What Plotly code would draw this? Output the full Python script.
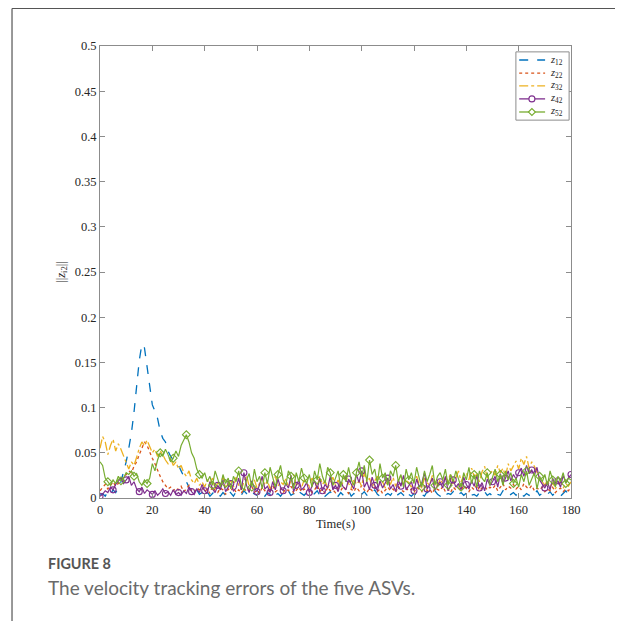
import plotly.graph_objects as go

# time axis (s)
time_s = list(range(0, 181))

# values in thousandths of the error norm
z12_milli = [3,5,2,7,4,9,6,11,18,28,
             40,55,72,95,125,152,170,166,145,122,
             103,96,88,74,66,62,52,46,42,40,
             36,30,24,18,12,8,5,9,4,6,
             3,7,2,5,8,4,2,6,3,9,
             5,2,7,4,3,8,5,2,6,4,
             3,9,5,2,6,4,7,3,5,2,
             6,4,8,3,5,2,7,5,3,6,
             4,2,5,8,3,6,2,4,7,3,
             5,2,6,3,4,8,2,5,3,6,
             4,7,3,2,5,9,4,2,6,3,
             5,3,7,2,4,6,3,8,4,2,
             5,3,6,4,2,7,3,5,8,4,
             2,6,3,5,4,7,2,4,6,3,
             5,8,3,4,2,6,4,7,3,5,
             2,6,4,3,8,5,2,4,6,3,
             7,4,2,5,3,6,4,8,3,5,
             2,4,7,3,6,4,2,5,8,4,
             6]
z22_milli = [8,12,15,10,14,18,13,16,20,22,
             26,30,28,35,40,48,55,62,58,50,
             44,38,30,24,18,14,10,12,8,11,
             9,13,7,10,14,8,6,11,9,12,
             7,10,5,13,8,6,11,9,4,10,
             8,12,6,9,5,11,7,10,13,6,
             9,5,12,8,10,6,14,7,9,11,
             6,10,8,13,5,9,12,7,10,8,
             11,6,9,14,7,10,5,12,8,9,
             6,11,8,13,9,5,10,7,12,8,
             14,9,6,11,8,12,7,10,5,9,
             12,8,10,6,13,9,7,11,8,10,
             6,12,9,7,14,8,10,5,11,9,
             8,13,7,10,6,12,9,11,8,14,
             10,7,12,9,15,8,11,13,9,12,
             10,14,8,12,16,9,13,11,15,10,
             13,9,16,12,10,14,8,11,9,12,
             7,10,8,12,6,9,11,7,10,8,
             12]
z32_milli = [55,68,62,48,58,65,52,60,54,46,
             38,32,40,36,45,55,62,58,64,56,
             50,54,46,52,48,42,38,44,36,40,
             32,36,28,24,30,20,16,22,14,18,
             12,20,15,22,10,17,13,24,11,16,
             19,12,23,14,9,18,25,13,16,20,
             11,17,22,14,19,10,16,24,13,18,
             15,21,12,19,26,14,17,11,20,16,
             13,22,18,12,24,15,19,11,17,23,
             14,20,12,18,25,16,11,21,15,19,
             13,28,17,22,12,19,24,14,18,11,
             20,15,23,13,18,26,14,21,16,12,
             19,24,15,11,22,17,14,25,18,13,
             21,16,23,19,27,14,22,30,18,25,
             28,20,33,24,26,18,29,35,22,27,
             31,25,36,28,33,24,38,30,35,41,
             32,44,37,46,33,40,35,28,22,18,
             14,20,12,17,10,15,19,11,16,13,
             18]
z42_milli = [2,4,8,6,12,9,15,18,22,16,
             20,24,14,18,10,7,12,5,9,6,
             4,8,3,6,10,5,7,3,9,4,
             6,3,8,5,12,7,4,10,6,15,
             8,5,18,10,6,14,9,20,7,12,
             16,8,11,22,9,28,14,6,19,11,
             7,15,24,10,13,6,18,9,21,12,
             8,16,11,25,7,14,20,9,12,17,
             6,13,19,10,22,8,15,11,24,9,
             14,7,18,12,9,21,15,10,26,17,
             30,12,18,9,23,14,8,19,11,16,
             22,10,15,7,20,13,25,9,14,18,
             8,21,12,17,28,10,15,22,9,13,
             18,11,24,8,14,20,12,16,9,23,
             15,10,19,13,25,11,17,8,21,14,
             18,24,12,27,16,22,30,19,26,21,
             28,33,24,36,27,31,25,34,20,15,
             11,18,9,22,14,19,12,25,17,22,
             26]
z52_milli = [40,36,22,18,14,20,16,24,19,22,
             28,26,30,24,27,18,14,20,16,22,
             38,30,42,50,46,54,48,40,44,52,
             46,58,64,70,62,50,44,32,26,22,
             28,18,24,14,30,20,12,26,16,22,
             10,24,18,30,14,8,20,27,12,32,
             18,24,10,28,16,34,22,12,26,36,
             20,14,30,24,10,28,18,33,22,16,
             26,12,30,20,38,24,16,34,28,14,
             22,30,12,26,18,34,20,14,28,40,
             24,36,18,42,26,32,16,38,22,28,
             14,30,24,36,18,26,12,32,20,28,
             16,34,22,12,30,18,26,36,14,24,
             28,20,32,14,26,18,30,22,12,28,
             20,34,16,26,12,30,22,18,28,14,
             24,32,18,26,14,30,20,28,16,22,
             12,26,18,30,14,22,28,10,24,18,
             26,14,30,20,12,24,18,28,16,22,
             20]

series_names = ["<i>z</i><sub>12</sub>", "<i>z</i><sub>22</sub>", "<i>z</i><sub>32</sub>",
                "<i>z</i><sub>42</sub>", "<i>z</i><sub>52</sub>"]
series_values = [z12_milli, z22_milli, z32_milli, z42_milli, z52_milli]

y_tick_vals = [0, 0.05, 0.1, 0.15, 0.2, 0.25, 0.3, 0.35, 0.4, 0.45, 0.5]
y_tick_text = ["0", "0.05", "0.1", "0.15", "0.2", "0.25", "0.3", "0.35", "0.4", "0.45", "0.5"]
x_tick_vals = [0, 20, 40, 60, 80, 100, 120, 140, 160, 180]

colors = ["#0072BD", "#D95319", "#EDB120", "#7E2F8E", "#77AC30"]
dashes = ["dash", "dot", "dashdot", "solid", "solid"]
symbols = [None, None, None, "circle-open", "diamond-open"]

fig = go.Figure()
for name, vals, c, d, s in zip(series_names, series_values, colors, dashes, symbols):
    y = [v / 1000.0 for v in vals]
    if s is None:
        fig.add_trace(go.Scatter(x=time_s, y=y, name=name, mode="lines", showlegend=False,
                                 line=dict(color=c, width=1.3, dash=d)))
    else:
        fig.add_trace(go.Scatter(x=time_s, y=y, name=name, mode="lines+markers", showlegend=False,
                                 line=dict(color=c, width=1.2, dash=d),
                                 marker=dict(symbol=s, size=6, color=c,
                                             line=dict(color=c, width=1.1),
                                             maxdisplayed=45)))

axis_common = dict(showline=True, linecolor="#8c8c8c", linewidth=1, mirror="ticks",
                   ticks="inside", ticklen=5, tickcolor="#8c8c8c", showgrid=False,
                   zeroline=False, tickfont=dict(family="Liberation Serif", size=12.5, color="#262626"))

fig.update_xaxes(range=[0, 180], tickvals=x_tick_vals,
                 title=dict(text="Time(s)", font=dict(family="Liberation Serif", size=12.5, color="#262626"),
                            standoff=3),
                 **axis_common)
fig.update_yaxes(range=[0, 0.5], tickvals=y_tick_vals, ticktext=y_tick_text,
                 title=dict(text="||<i>z</i><sub>i2</sub>||",
                            font=dict(family="Liberation Serif", size=12.5, color="#262626"),
                            standoff=6),
                 **axis_common)

# manual compact legend (paper coordinates)
leg_x0, leg_x1, leg_ytop, leg_ybot = 0.883, 0.996, 0.987, 0.836
leg_rows = [0.969, 0.940, 0.912, 0.883, 0.854]
seg_x0, seg_x1, mark_x, text_x = 0.890, 0.945, 0.917, 0.951

shapes = [
    dict(type="line", xref="paper", yref="paper", x0=-0.1868, x1=-0.1868, y0=1.083, y1=-0.3,
         line=dict(color="#555555", width=1.2)),
    dict(type="line", xref="paper", yref="paper", x0=-0.1868, x1=1.2, y0=1.083, y1=1.083,
         line=dict(color="#555555", width=1.2)),
    dict(type="rect", xref="paper", yref="paper", x0=leg_x0, x1=leg_x1, y0=leg_ybot, y1=leg_ytop,
         line=dict(color="#8c8c8c", width=1), fillcolor="white", layer="above"),
]
annotations = []
for name, c, d, s, yrow in zip(series_names, colors, dashes, symbols, leg_rows):
    shapes.append(dict(type="line", xref="paper", yref="paper", x0=seg_x0, x1=seg_x1, y0=yrow, y1=yrow,
                       line=dict(color=c, width=1.3, dash=d), layer="above"))
    if s == "circle-open":
        shapes.append(dict(type="circle", xref="paper", yref="paper", xsizemode="pixel", ysizemode="pixel",
                           xanchor=mark_x, yanchor=yrow, x0=-3, x1=3, y0=-3, y1=3,
                           line=dict(color=c, width=1.1), fillcolor="white", layer="above"))
    elif s == "diamond-open":
        shapes.append(dict(type="path", xref="paper", yref="paper", xsizemode="pixel", ysizemode="pixel",
                           xanchor=mark_x, yanchor=yrow, path="M -3.5 0 L 0 3.5 L 3.5 0 L 0 -3.5 Z",
                           line=dict(color=c, width=1.1), fillcolor="white", layer="above"))
    annotations.append(dict(text=name, xref="paper", yref="paper", x=text_x, y=yrow,
                            xanchor="left", yanchor="middle", showarrow=False,
                            font=dict(family="Liberation Serif", size=10.5, color="#262626")))

annotations += [
    dict(text="<b>FIGURE 8</b>", xref="paper", yref="paper", x=-0.1146, y=-0.146,
         xanchor="left", yanchor="middle", showarrow=False,
         font=dict(family="Lato", size=14.4, color="#555555")),
    dict(text="The velocity tracking errors of the five ASVs.", xref="paper", yref="paper",
         x=-0.1146, y=-0.197, xanchor="left", yanchor="middle", showarrow=False,
         font=dict(family="Lato", size=19, color="#6a6a6a")),
]

fig.update_layout(
    width=615, height=613,
    margin=dict(l=92, r=52, t=38, b=123),
    paper_bgcolor="white", plot_bgcolor="white",
    showlegend=False,
    shapes=shapes,
    annotations=annotations,
)

fig.write_html("out.html")
